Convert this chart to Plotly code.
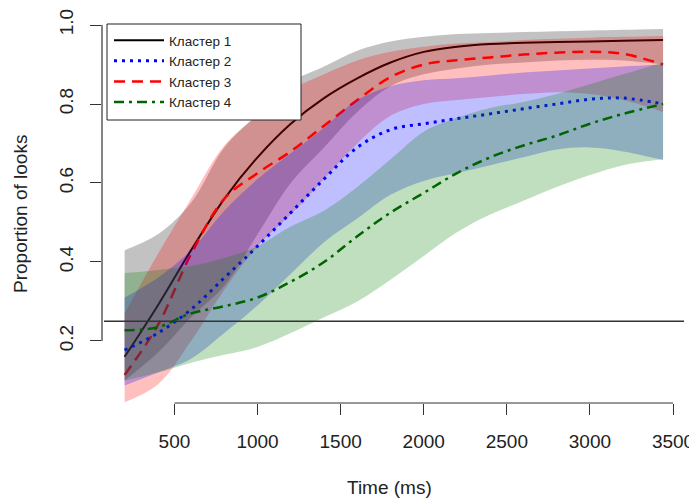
import plotly.graph_objects as go

# ---- data ----
time_ms = [200, 400, 600, 800, 1000, 1200, 1400, 1600, 1800, 2000, 2200, 2400, 2600, 2800, 3000, 3200, 3440]

c1_mean = [0.16, 0.29, 0.43, 0.56, 0.665, 0.75, 0.815, 0.865, 0.905, 0.932, 0.945, 0.952, 0.955, 0.957, 0.958, 0.96, 0.962]
c1_low = [0.10, 0.17, 0.26, 0.34, 0.47, 0.60, 0.69, 0.78, 0.845, 0.875, 0.89, 0.90, 0.905, 0.91, 0.912, 0.91, 0.90]
c1_high = [0.43, 0.47, 0.55, 0.69, 0.775, 0.855, 0.895, 0.935, 0.958, 0.97, 0.977, 0.98, 0.982, 0.984, 0.986, 0.988, 0.99]

c2_mean = [0.177, 0.22, 0.28, 0.36, 0.44, 0.525, 0.61, 0.69, 0.735, 0.75, 0.763, 0.775, 0.788, 0.80, 0.812, 0.815, 0.80]
c2_low = [0.087, 0.12, 0.155, 0.22, 0.29, 0.37, 0.45, 0.51, 0.57, 0.605, 0.625, 0.645, 0.665, 0.685, 0.69, 0.68, 0.658]
c2_high = [0.31, 0.36, 0.43, 0.53, 0.61, 0.675, 0.74, 0.81, 0.845, 0.86, 0.865, 0.872, 0.88, 0.885, 0.89, 0.895, 0.90]

c3_mean = [0.114, 0.24, 0.42, 0.56, 0.625, 0.68, 0.745, 0.81, 0.868, 0.90, 0.911, 0.918, 0.925, 0.93, 0.932, 0.927, 0.90]
c3_low = [0.045, 0.09, 0.20, 0.33, 0.44, 0.52, 0.61, 0.70, 0.77, 0.80, 0.81, 0.818, 0.825, 0.83, 0.825, 0.81, 0.78]
c3_high = [0.27, 0.42, 0.56, 0.695, 0.77, 0.835, 0.875, 0.91, 0.932, 0.945, 0.953, 0.957, 0.962, 0.965, 0.968, 0.97, 0.972]

c4_mean = [0.227, 0.235, 0.27, 0.288, 0.31, 0.35, 0.40, 0.465, 0.525, 0.575, 0.625, 0.665, 0.695, 0.72, 0.75, 0.775, 0.80]
c4_low = [0.10, 0.12, 0.145, 0.165, 0.185, 0.22, 0.26, 0.30, 0.355, 0.415, 0.475, 0.52, 0.555, 0.59, 0.62, 0.645, 0.66]
c4_high = [0.372, 0.38, 0.39, 0.41, 0.44, 0.49, 0.53, 0.59, 0.66, 0.73, 0.765, 0.79, 0.805, 0.825, 0.85, 0.875, 0.905]

names = ["Кластер 1", "Кластер 2", "Кластер 3", "Кластер 4"]
chance_level = 0.25
x_ticks = [500, 1000, 1500, 2000, 2500, 3000, 3500]
y_ticks = [0.2, 0.4, 0.6, 0.8, 1.0]
y_ticktext = ["0.2", "0.4", "0.6", "0.8", "1.0"]
x_title = "Time (ms)"
y_title = "Proportion of looks"

FONT = "Liberation Sans, Arial, sans-serif"
AX = "#333333"
TXT = "#222222"

# the page body has an 8px margin: figure size / margins compensate for it
W, H = 689, 491
ML, MR, MT, MB = 94, 13, 17, 96
PW, PH = W - ML - MR, H - MT - MB

# drawing order as in the original: band then line, cluster 1, 3, 2, 4
series = [
    (names[0], c1_mean, c1_low, c1_high, "rgba(0,0,0,0.24)", dict(color="black", width=2, dash="solid"), 1),
    (names[2], c3_mean, c3_low, c3_high, "rgba(255,0,0,0.25)", dict(color="red", width=2.5, dash="11px,7px"), 3),
    (names[1], c2_mean, c2_low, c2_high, "rgba(0,0,255,0.25)", dict(color="blue", width=3, dash="3px,5px"), 2),
    (names[3], c4_mean, c4_low, c4_high, "rgba(0,128,0,0.25)", dict(color="#006400", width=2.5, dash="10px,5px,3px,5px"), 4),
]

fig = go.Figure()
for name, mean, low, high, fillc, line, rank in series:
    fig.add_trace(go.Scatter(x=time_ms, y=low, mode="lines", line=dict(width=0, shape="spline"),
                             showlegend=False, hoverinfo="skip"))
    fig.add_trace(go.Scatter(x=time_ms, y=high, mode="lines", line=dict(width=0, shape="spline"),
                             fill="tonexty", fillcolor=fillc, showlegend=False, hoverinfo="skip"))
    fig.add_trace(go.Scatter(x=time_ms, y=mean, mode="lines", name=name,
                             line=dict(shape="spline", **line), legendrank=rank))

# chance line
fig.add_shape(type="line", xref="paper", yref="y", x0=2 / PW, x1=1, y0=chance_level, y1=chance_level,
              line=dict(color=AX, width=1.5), layer="above")
# R-style axis lines spanning only the ticks
fig.add_shape(type="line", xref="x", yref="paper", x0=x_ticks[0], x1=x_ticks[-1], y0=0, y1=0,
              line=dict(color=AX, width=1.2))
fig.add_shape(type="line", xref="paper", yref="y", x0=0, x1=0, y0=y_ticks[0], y1=y_ticks[-1],
              line=dict(color=AX, width=1.2))
# legend frame (R legend box)
fig.add_shape(type="rect", xref="paper", yref="paper", x0=5 / PW, x1=199 / PW,
              y0=1 - 95 / PH, y1=1 + 1 / PH, fillcolor="white",
              line=dict(color=TXT, width=1), layer="above")

# axis titles
fig.add_annotation(text=x_title, xref="paper", yref="paper", x=(389 - 102) / PW, y=0, yshift=-84,
                   xanchor="center", yanchor="middle", showarrow=False,
                   font=dict(size=19, family=FONT, color=TXT))
fig.add_annotation(text=y_title, xref="paper", yref="paper", x=0, y=0.5, xshift=-82,
                   xanchor="center", yanchor="middle", textangle=-90, showarrow=False,
                   font=dict(size=19, family=FONT, color=TXT))

fig.update_layout(
    width=W, height=H,
    margin=dict(l=ML, r=MR, t=MT, b=MB, autoexpand=False),
    paper_bgcolor="white", plot_bgcolor="white",
    font=dict(family=FONT, size=19, color=TXT),
    showlegend=True,
    legend=dict(x=7 / PW, y=1 - 0 / PH, xanchor="left", yanchor="top",
                borderwidth=0, bgcolor="rgba(0,0,0,0)",
                font=dict(family=FONT, size=13.5, color=TXT),
                itemwidth=50, traceorder="normal"),
    xaxis=dict(range=[64, 3566], showgrid=False, zeroline=False, showline=False, automargin=False,
               tickmode="array", tickvals=x_ticks, ticks="outside", ticklen=11,
               tickwidth=1.2, tickcolor=AX, ticklabelstandoff=10, ticklabeloverflow="allow"),
    yaxis=dict(range=[0.043, 1.0], showgrid=False, zeroline=False, showline=False, automargin=False,
               tickmode="array", tickvals=y_ticks, ticktext=y_ticktext, tickangle=-90,
               ticks="outside", ticklen=11, tickwidth=1.2, tickcolor=AX, ticklabelstandoff=9),
)

fig.write_html("out.html")
